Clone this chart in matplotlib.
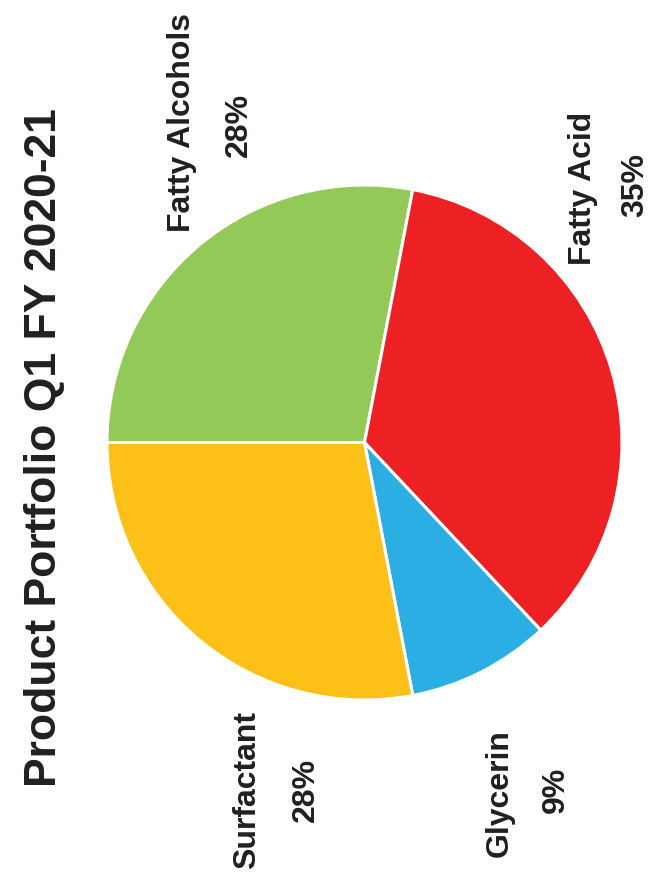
import matplotlib
matplotlib.use("Agg")
import matplotlib.pyplot as plt

plt.rcParams['font.family'] = ['Liberation Sans', 'DejaVu Sans']

# portfolio shares, clockwise from the left edge
products = ["Fatty Alcohols", "Fatty Acid", "Glycerin", "Surfactant"]
shares = [28, 35, 9, 28]
colors = ["#93C956", "#ED2024", "#2BAEE4", "#FCC016"]
title = "Product Portfolio Q1 FY 2020-21"

txt_color = "#231F20"
W, H = 651, 882

fig = plt.figure(figsize=(W / 100, H / 100), dpi=100)

# pie box: centre (364.5, 442.5) px, radius 257.5 px
cx, cy, r = 364.5, 442.5, 257.5
ax = fig.add_axes([(cx - r) / W, 1 - (cy + r) / H, 2 * r / W, 2 * r / H])
ax.pie(shares, colors=colors, startangle=180, counterclock=False,
       wedgeprops=dict(edgecolor="white", linewidth=2.2))
ax.set_xlim(-1, 1)
ax.set_ylim(-1, 1)
ax.set_aspect("equal")
ax.axis("off")

# rotated labels (name, then percent), pixel centres
label_pos = {
    "Fatty Alcohols": ((182, 123), (239, 125)),
    "Fatty Acid": ((583, 188), (635, 185)),
    "Glycerin": ((500, 793), (556, 790)),
    "Surfactant": ((247, 790), (306, 790)),
}
for name, val in zip(products, shares):
    (nx, ny), (px, py) = label_pos[name]
    fig.text(nx / W, 1 - ny / H, name, rotation=90, ha="center", va="center",
             fontsize=23, fontweight="bold", color=txt_color)
    fig.text(px / W, 1 - py / H, f"{val}%", rotation=90, ha="center", va="center",
             fontsize=23, fontweight="bold", color=txt_color)

fig.text(45 / W, 1 - 448 / H, title, rotation=90, ha="center", va="center",
         fontsize=32, fontweight="bold", color=txt_color)

fig.savefig("out.png", dpi=100, facecolor="white")
